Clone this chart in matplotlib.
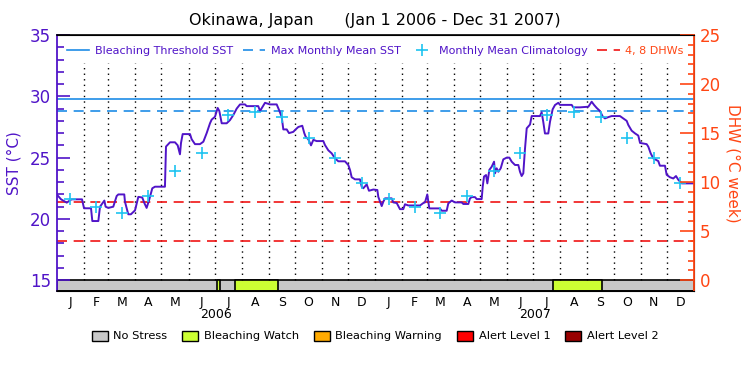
import matplotlib
matplotlib.use('Agg')
import matplotlib.pyplot as plt
import numpy as np
from matplotlib.lines import Line2D
from matplotlib.patches import Patch

# days in each month, 2006 and 2007
month_days = [31, 28, 31, 30, 31, 30, 31, 31, 30, 31, 30, 31] * 2
month_letters = ['J', 'F', 'M', 'A', 'M', 'J', 'J', 'A', 'S', 'O', 'N', 'D'] * 2
years = ['2006', '2007']

# satellite SST, day since Jan 1 2006
sst_day = [0, 5, 11.5, 17, 23, 29, 31.3, 39.3, 40.8, 47.7, 49.6, 54.6, 56, 59.1, 62, 64.8,
           68.7, 70.6, 77.4, 78.2, 82, 85, 89.7, 93.5, 98, 100.4, 103, 105.7, 109.5, 112.6,
           124, 125.2, 129.8, 135.5, 138.6, 141.2, 142.4, 144.3, 152.7, 154.6, 158.4, 164.1,
           168, 171.8, 175.6, 177.5, 181.3, 184.4, 186.3, 189, 194.7, 198.5, 202.3, 206.2,
           210, 215.7, 217.6, 230.9, 232.9, 238.6, 244.3, 252, 254.6, 257.7, 259.6, 263.5,
           266.1, 271, 273.7, 276.8, 281.3, 283.6, 285.2, 288.2, 291.3, 294, 297.8, 305.4,
           307.3, 311.1, 315, 318.8, 322.6, 330.2, 334, 336, 337.9, 341.7, 347.4, 349.4,
           351.2, 355.1, 357.7, 362.7, 367.3, 368.4, 372.3, 374.1, 376.1, 383.7, 385.6,
           389.5, 393.2, 397, 399, 402.7, 416.2, 420, 421.9, 424.5, 426.8, 439, 441, 446.7,
           448.6, 452.5, 456.2, 463.9, 465.8, 471.5, 473.4, 475.4, 479.2, 481.1, 486.8, 488,
           489.5, 491.8, 493.3, 495.6, 498.3, 501, 502.1, 504, 505.9, 508.6, 511.6, 515.5,
           518.5, 521.2, 525, 528.8, 530.7, 532.6, 534.5, 536.4, 538.4, 542.2, 544.1, 553.6,
           555.5, 557.4, 559.3, 563.1, 565.1, 568.1, 570.8, 574.6, 576.5, 589.9, 591.8,
           599.4, 609, 612.8, 615.5, 618.6, 622.3, 625.4, 628, 631.8, 635.7, 645.2, 649,
           652.9, 654.8, 658.6, 662.4, 666.2, 668.2, 675.8, 677.7, 680.4, 683.4, 689.1, 691,
           696.8, 698.7, 702.5, 706.3, 709.4, 712, 715.9, 729.2]
sst_val = [22.0, 21.6, 21.33, 21.6, 21.6, 21.6, 20.87, 20.87, 19.83, 19.83, 21.0, 21.5, 21.0,
           20.9, 20.95, 21.0, 21.87, 22.0, 22.0, 21.4, 20.38, 20.38, 20.7, 21.8, 21.75, 21.3,
           20.9, 21.5, 22.5, 22.63, 22.63, 25.9, 26.25, 26.25, 26.0, 25.27, 26.2, 26.92,
           26.92, 26.5, 26.1, 26.1, 26.3, 27.0, 27.8, 28.1, 28.33, 29.05, 28.8, 27.8, 27.8,
           28.06, 28.47, 29.0, 29.34, 29.34, 29.2, 29.2, 28.8, 29.47, 29.34, 29.34, 28.9,
           28.33, 27.3, 27.3, 27.0, 27.1, 27.3, 27.5, 27.6, 27.0, 26.7, 26.5, 26.0, 26.45,
           26.35, 26.35, 26.03, 25.6, 25.35, 24.94, 24.7, 24.7, 24.4, 23.99, 23.4, 23.23,
           23.23, 22.63, 22.5, 22.82, 22.3, 22.4, 22.36, 21.8, 21.05, 21.4, 21.68, 21.68,
           21.35, 21.3, 20.8, 20.8, 21.2, 21.1, 21.1, 21.3, 21.35, 22.0, 20.86, 20.86, 20.67,
           20.67, 21.27, 21.5, 21.35, 21.35, 21.22, 21.22, 21.67, 21.78, 21.78, 21.62, 21.62,
           22.63, 23.46, 23.58, 22.9, 24.0, 24.26, 24.67, 23.72, 24.13, 23.85, 24.13, 24.86,
           25.0, 25.0, 24.67, 24.4, 24.4, 23.85, 23.5, 23.72, 25.7, 27.39, 27.7, 28.39, 28.39,
           28.7, 27.9, 26.97, 26.97, 27.93, 28.94, 29.29, 29.47, 29.3, 29.3, 29.1, 29.1,
           29.15, 29.56, 29.3, 29.05, 28.8, 28.36, 28.2, 28.3, 28.39, 28.39, 28.2, 28.0,
           27.66, 27.2, 26.98, 26.8, 26.2, 26.1, 25.89, 25.35, 24.94, 24.72, 24.34, 24.34,
           23.6, 23.4, 23.3, 23.5, 23.2, 22.9, 22.9]

# monthly mean climatology (same each year)
clim_sst = [21.63, 20.95, 20.46, 21.87, 23.9, 25.35, 28.5, 28.74, 28.28, 26.57, 24.94, 22.9]
mmm_sst = 28.77
threshold_sst = 29.77
dhw_levels = [4, 8]

# bleaching watch periods (days since Jan 1 2006), rest is no stress
watch_start = [183.9, 204.2, 568.5]
watch_end = [187.3, 253.5, 624.7]

purple = '#5014c8'
blue = '#1e8ce6'
cyan = '#1ec3f0'
orange = '#ff4614'
red = '#f01414'

month_start = np.concatenate([[0], np.cumsum(month_days)[:-1]])
month_mid = month_start + np.array(month_days) / 2.0
ndays = sum(month_days)

fig = plt.figure(figsize=(7.5, 3.75), dpi=100)
ax = fig.add_axes([0.0756, 0.2248, 0.8497, 0.6819])
ax.set_xlim(0, ndays)
ax.set_ylim(14.15, 35)

# month boundaries
for d in month_start[1:]:
    ax.plot([d, d], [15, 32.7], color='k', linestyle=(0, (1, 3)), linewidth=1)

ax.axhline(threshold_sst, color=blue, linewidth=1.2)
ax.axhline(mmm_sst, color=blue, linewidth=1.2, dashes=(6, 4))
for lv in dhw_levels:
    ax.axhline(15 + lv * 0.8, color=red, linewidth=1.2, dashes=(6, 4))

ax.plot(sst_day, sst_val, color=purple, linewidth=1.4)
ax.plot(month_mid, clim_sst * 2, linestyle='none', marker='+', markersize=9,
        markeredgewidth=1.2, color=cyan)

# stress bar
ax.broken_barh([(0, ndays)], (14.15, 0.85), facecolor='#c8c8c8', edgecolor='k', linewidth=1.2)
ax.broken_barh([(s, e - s) for s, e in zip(watch_start, watch_end)], (14.15, 0.85),
               facecolor='#ccff33', edgecolor='k', linewidth=1.2)

ax.set_yticks([15, 20, 25, 30, 35])
ax.set_yticks(np.arange(16, 35, 1), minor=True)
ax.tick_params(axis='y', which='major', direction='in', length=9.5, width=1.2,
               colors=purple, labelsize=12, pad=4, right=False)
ax.tick_params(axis='y', which='minor', direction='in', length=5, width=1.2, colors=purple,
               right=False)
ax.spines['left'].set_color(purple)
ax.spines['left'].set_linewidth(1.3)
ax.spines['top'].set_linewidth(1.2)
ax.spines['bottom'].set_linewidth(1.2)
ax.set_ylabel('SST (°C)', color=purple, fontsize=11, labelpad=6)

ax.set_xticks(month_mid)
ax.set_xticklabels(month_letters, fontsize=9)
ax.tick_params(axis='x', which='both', length=0, pad=4, top=False)
ax.xaxis.set_minor_locator(matplotlib.ticker.NullLocator())
for i, y in enumerate(years):
    ax.text(ndays * (i + 0.5) / 2, -0.095, y, transform=ax.get_xaxis_transform(),
            ha='center', va='center', fontsize=9)

ax2 = ax.twinx()
ax2.set_ylim((14.15 - 15) * 1.25, 25)
ax2.set_yticks([0, 5, 10, 15, 20, 25])
ax2.set_yticks(np.arange(1, 25, 1), minor=True)
ax2.tick_params(axis='y', which='major', direction='in', length=10, width=1.2,
                colors=orange, labelsize=12, pad=4, left=False)
ax2.tick_params(axis='y', which='minor', direction='in', length=4.5, width=1.2, colors=orange,
                left=False)
ax2.spines['right'].set_color(orange)
ax2.spines['right'].set_linewidth(1.3)
ax2.spines['left'].set_visible(False)
ax2.set_ylabel('DHW (°C week)', color=orange, fontsize=11, rotation=-90, labelpad=14)

fig.suptitle('Okinawa, Japan      (Jan 1 2006 - Dec 31 2007)', fontsize=11.5, y=0.965)

top_handles = [
    Line2D([], [], color=blue, linewidth=1.2),
    Line2D([], [], color=blue, linewidth=1.2, dashes=(6, 4)),
    Line2D([], [], color=cyan, linestyle='none', marker='+', markersize=9, markeredgewidth=1.2),
    Line2D([], [], color=red, linewidth=1.2, dashes=(6, 4)),
]
top_labels = ['Bleaching Threshold SST', 'Max Monthly Mean SST', 'Monthly Mean Climatology',
              '4, 8 DHWs']
leg = ax.legend(top_handles, top_labels, loc='center', bbox_to_anchor=(0.5, 0.937), ncol=4,
                frameon=False, fontsize=8, handlelength=2.0, handletextpad=0.5,
                columnspacing=0.9)
for t, c in zip(leg.get_texts(), [purple, purple, purple, orange]):
    t.set_color(c)

stress_colors = ['#c8c8c8', '#ccff33', '#ffaa00', '#ff0000', '#990000']
stress_labels = ['No Stress', 'Bleaching Watch', 'Bleaching Warning', 'Alert Level 1',
                 'Alert Level 2']
fig.legend([Patch(facecolor=c, edgecolor='k', linewidth=1) for c in stress_colors],
           stress_labels, loc='center', bbox_to_anchor=(0.5, 0.104), ncol=5, frameon=False,
           fontsize=8.2, handlelength=1.4, handleheight=1.0, handletextpad=0.5,
           columnspacing=1.3)

fig.savefig('out.png', dpi=100)
